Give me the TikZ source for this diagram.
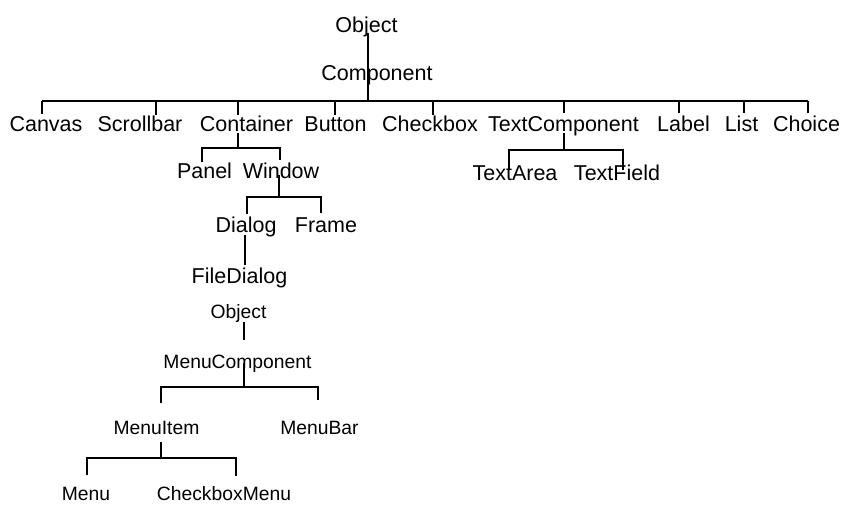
\documentclass[tikz,border=0pt]{standalone}
\usepackage{fontspec}
\setmainfont{Liberation Sans}
\begin{document}
\begin{tikzpicture}[x=1pt,y=-1pt,
  lbl/.style={inner sep=0pt, anchor=base, font=\fontsize{21.5}{24}\selectfont},
  lbls/.style={inner sep=0pt, anchor=base, font=\fontsize{19.3}{22}\selectfont},
  edge/.style={line width=1.4pt, line cap=butt}]
\useasboundingbox[fill=white] (0,0) rectangle (842,504);
% ---- labels: top tree
\node[lbl] (obj1) at (366.5,32) {Object};
\node[lbl] (comp) at (377,80) {Component};
\node[lbl] (canvas) at (46,131) {Canvas};
\node[lbl] (scroll) at (140,131) {Scrollbar};
\node[lbl] (cont) at (246.5,131) {Container};
\node[lbl] (button) at (335.5,131) {Button};
\node[lbl] (check) at (430,131) {Checkbox};
\node[lbl] (textc) at (563.5,131) {TextComponent};
\node[lbl] (label) at (683.5,131) {Label};
\node[lbl] (list) at (741.5,131) {List};
\node[lbl] (choice) at (806.5,131) {Choice};
\node[lbl] (panel) at (204.5,178) {Panel};
\node[lbl] (window) at (281,178) {Window};
\node[lbl] (tarea) at (515,180) {TextArea};
\node[lbl] (tfield) at (617,180) {TextField};
\node[lbl] (dialog) at (246,232) {Dialog};
\node[lbl] (frame) at (326,232) {Frame};
\node[lbl] (fdialog) at (239.5,283) {FileDialog};
% ---- labels: menu tree
\node[lbls] (obj2) at (238.5,318) {Object};
\node[lbls] (mcomp) at (237.5,368) {MenuComponent};
\node[lbls] (mitem) at (156.5,434) {MenuItem};
\node[lbls] (mbar) at (319.5,434) {MenuBar};
\node[lbls] (menu) at (86,500) {Menu};
\node[lbls] (cbmenu) at (224,500) {CheckboxMenu};
% ---- junction coordinates
\coordinate (j0) at (368,101);
\coordinate (jCanvas) at (42,101);
\coordinate (jScroll) at (156,101);
\coordinate (jCont) at (238,101);
\coordinate (jButton) at (335,101);
\coordinate (jCheck) at (433,101);
\coordinate (jTextc) at (564,101);
\coordinate (jLabel) at (679,101);
\coordinate (jList) at (744,101);
\coordinate (jChoice) at (808,101);
% top tree
\draw[edge] (368,33) -- (j0);
\draw[edge] (jCanvas) -- (jChoice);
\draw[edge] (jCanvas) -- (42,114);
\draw[edge] (jScroll) -- (156,115);
\draw[edge] (jCont) -- (238,115);
\draw[edge] (jButton) -- (335,115);
\draw[edge] (jCheck) -- (433,115);
\draw[edge] (jTextc) -- (564,113);
\draw[edge] (jLabel) -- (679,113);
\draw[edge] (jList) -- (744,113);
\draw[edge] (jChoice) -- (808,113);
% Container -> Panel, Window
\coordinate (jPW) at (238,148);
\draw[edge] (238,133) -- (jPW);
\draw[edge] (202,162) -- (202,148) -- (280,148) -- (280,160);
% Window -> Dialog, Frame
\coordinate (jDF) at (279,197);
\draw[edge] (279,175) -- (jDF);
\draw[edge] (247,214) -- (247,197) -- (321,197) -- (321,213);
% Dialog -> FileDialog
\draw[edge] (245,235) -- (245,265);
% TextComponent -> TextArea, TextField
\coordinate (jTT) at (564,150);
\draw[edge] (564,133) -- (jTT);
\draw[edge] (509,170) -- (509,150) -- (623,150) -- (623,170);
% menu tree
\draw[edge] (244,322) -- (244,340);
\coordinate (jMC) at (244,387);
\draw[edge] (244,363) -- (jMC);
\draw[edge] (161,403) -- (161,387) -- (318,387) -- (318,400);
\coordinate (jMI) at (161,458);
\draw[edge] (161,442) -- (jMI);
\draw[edge] (87,475) -- (87,458) -- (236,458) -- (236,476);
\end{tikzpicture}
\end{document}
